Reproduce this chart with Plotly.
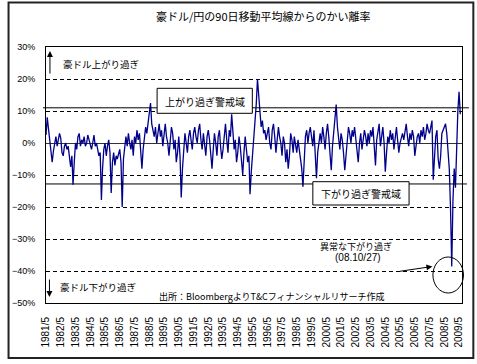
import plotly.graph_objects as go
import pandas as pd

# ---- data (monthly, from 1981/5) : deviation from 90-day MA, % ----
y1981 = [2.5, 8, 4.5, 1, -3, -6, -2.5, 0, 2, -1, 1, 3]
y1982 = [1.5, -3, -4, -1, 0, -2, -1, -5, -7.5, -4, -13, -6]
y1983 = [0, -2, 2, 3, -1, 1, 0, 2, -1, 0, 2.5, 1]
y1984 = [-1, -2, 0, 2.5, -1, 0, -2, -4, -3, -17.8, -8, -2]
y1985 = [0, -4, -1, 1, -3, -15.6, -6, -3, -7, -4, -5, -3]
y1986 = [-2, -6, -20, -5, 0, 2, -1, 3, 0, -2, 1, -4]
y1987 = [2, 0, 4, 1, 3, -3, -8, -2, 2, 5, 3, 6]
y1988 = [8, 12.5, 6, 4, 2, 5, 0, 3, 6, 2, 4, -1]
y1989 = [3, 6, 2, 0, -4, 2, 5, 3, -2, 1, -6, -3]
y1990 = [2, -4, -17, -8, -2, 3, 0, -3, 2, 4, 1, -2]
y1991 = [3, 5, 2, 0, 4, 6, 1, -2, 3, 0, -4, 2]
y1992 = [4, 1, -3, -8, -2, 3, 0, -4, 2, 4, -1, -5]
y1993 = [-2, 3, 6, 1, -3, 4, 2, 9, 3, -2, 1, -6]
y1994 = [-3, 2, -1, -5, -10, -3, 2, -2, -6, -4, -16, -9]
y1995 = [-4, 3, 8, 12, 20, 14, 8, 5, 7, 3, 4, 1]
y1996 = [3, 5, 0, -2, 4, 6, 2, -3, 1, 5, 2, 0]
y1997 = [-4, 2, 0, -6, -2, -8, -4, 3, 1, -3, 2, 0]
y1998 = [-3, 1, -2, -5, -8, -13.7, -4, 2, 4, 0, 3, 5]
y1999 = [2, -1, 4, -4, -11, -3, 1, 3, 0, 5, 2, -2]
y2000 = [3, 6, 2, -3, -8.5, -1, 4, 8, 12, 5, 2, -2]
y2001 = [3, 1, -3, -8.5, -4, 2, 5, 3, 0, 4, 2, 5]
y2002 = [1, -3, -6, 0, 3, -2, 1, 4, 2, -1, 3, 0]
y2003 = [4, 2, 5, -2, -7, 1, 3, 6, -1, 2, 5, 0]
y2004 = [-9, -3, 2, 0, 4, 1, 3, -2, 2, 5, 1, -3]
y2005 = [0, 2, 3, 1, 4, 6, 2, -1, 3, 1, 4, 2]
y2006 = [-4, -1, 2, 3, 0, 4, 2, 5, 1, 3, 6, 4]
y2007 = [3, 5, 7, -11.5, -3, 2, 4, -5, -8, -4, 3, 4]
y2008 = [5, 6, 3, -2, -8, -20, -38.6, -18, -8, -14, -2, 10]
y2009 = [16, 9]

deviation = (y1981 + y1982 + y1983 + y1984 + y1985 + y1986 + y1987 + y1988 +
             y1989 + y1990 + y1991 + y1992 + y1993 + y1994 + y1995 + y1996 +
             y1997 + y1998 + y1999 + y2000 + y2001 + y2002 + y2003 + y2004 +
             y2005 + y2006 + y2007 + y2008 + y2009)

tick_years = list(range(1981, 2010))
tick_labels = [f"{y}/5" for y in tick_years]
y_ticks = [30, 20, 10, 0, -10, -20, -30, -40, -50]
upper_warn = 11.0
lower_warn = -12.8

dates = pd.date_range("1981-05-01", periods=len(deviation), freq="MS")

JP = "Noto Sans CJK JP"
W, H = 477, 364
L, R, T, B = 40, 462, 47, 303


def px(x):
    return (x - L) / (R - L)


def py(y):
    return (B - y) / (B - T)


fig = go.Figure()
fig.add_trace(go.Scatter(x=dates, y=deviation, mode="lines",
                         line=dict(color="#00008B", width=1.3),
                         hoverinfo="skip", showlegend=False))

shapes = []
shapes.append(dict(type="line", xref="paper", yref="y", x0=px(37), x1=px(469),
                   y0=upper_warn, y1=upper_warn, line=dict(color="black", width=1)))
shapes.append(dict(type="line", xref="paper", yref="y", x0=px(40), x1=px(467),
                   y0=lower_warn, y1=lower_warn, line=dict(color="black", width=1)))
shapes.append(dict(type="rect", xref="paper", yref="paper", x0=px(152.7), x1=px(249.3),
                   y0=py(113.3), y1=py(88.3), fillcolor="white",
                   line=dict(color="black", width=1), layer="above"))
shapes.append(dict(type="rect", xref="paper", yref="paper", x0=px(310.7), x1=px(408.3),
                   y0=py(205), y1=py(181.7), fillcolor="white",
                   line=dict(color="black", width=1), layer="above"))
shapes.append(dict(type="circle", xref="paper", yref="paper", x0=px(432.5), x1=px(463.5),
                   y0=py(293), y1=py(257), line=dict(color="black", width=1), layer="above"))
shapes.append(dict(type="rect", xref="paper", yref="paper", x0=px(2), x1=px(473.5),
                   y0=py(358), y1=py(2.5), line=dict(color="#222", width=2), layer="above"))


def label(text, x, y, xa="center", size=10, family=JP):
    return dict(text=text, x=px(x), y=py(y), xref="paper", yref="paper",
                xanchor=xa, yanchor="middle", showarrow=False,
                font=dict(family=family, size=size, color="black"))


def arrow(x, y, ax, ay):
    return dict(text="", x=px(x), y=py(y), xref="paper", yref="paper",
                ax=ax, ay=ay, showarrow=True, arrowhead=2, arrowsize=1.2,
                arrowwidth=1, arrowcolor="black")


ann = [
    label("豪ドル/円の90日移動平均線からのかい離率", 261, 16, size=11),
    label("豪ドル上がり過ぎ", 55, 64, xa="left", size=9.5),
    label("豪ドル下がり過ぎ", 52, 287, xa="left", size=9.5),
    label("上がり過ぎ警戒域", 201, 101),
    label("下がり過ぎ警戒域", 359.5, 193.5),
    label("異常な下がり過ぎ", 354, 246, size=9),
    label("(08.10/27)", 357, 257.5, size=10, family="Liberation Sans"),
    label("出所：BloombergよりT&Cフィナンシャルリサーチ作成", 153, 296, xa="left", size=9),
    arrow(44, 51, 0, 24),
    arrow(43.5, 297, 0, -19),
    arrow(432, 266.5, -34, 5),
]

fig.update_layout(
    width=W, height=H,
    margin=dict(l=L, r=W - R, t=T, b=H - B),
    paper_bgcolor="white", plot_bgcolor="white",
    shapes=shapes, annotations=ann,
    showlegend=False,
    xaxis=dict(type="date", range=["1981-05-01", "2009-07-13"],
               tickmode="array",
               tickvals=[f"{y}-05-01" for y in tick_years], ticktext=tick_labels,
               tickangle=-90, tickfont=dict(family="Liberation Sans", size=10, color="black"),
               showgrid=False, zeroline=False, showline=True, mirror=True,
               linecolor="black", linewidth=1, ticks="", ticklabelstandoff=9),
    yaxis=dict(range=[-50, 30], tickmode="array", tickvals=y_ticks,
               ticktext=[f"{v}%" if v >= 0 else f"\u2212{abs(v)}%" for v in y_ticks],
               tickfont=dict(family="Liberation Sans", size=9, color="black"),
               showgrid=True, gridcolor="black", gridwidth=1, griddash="4px,3px",
               zeroline=True, zerolinecolor="#333", zerolinewidth=1,
               showline=True, mirror=True, linecolor="black", linewidth=1,
               ticks="", ticklabelstandoff=8),
)

fig.write_html("out.html", config={"displayModeBar": False},
               post_script="document.body.style.margin='0';")
